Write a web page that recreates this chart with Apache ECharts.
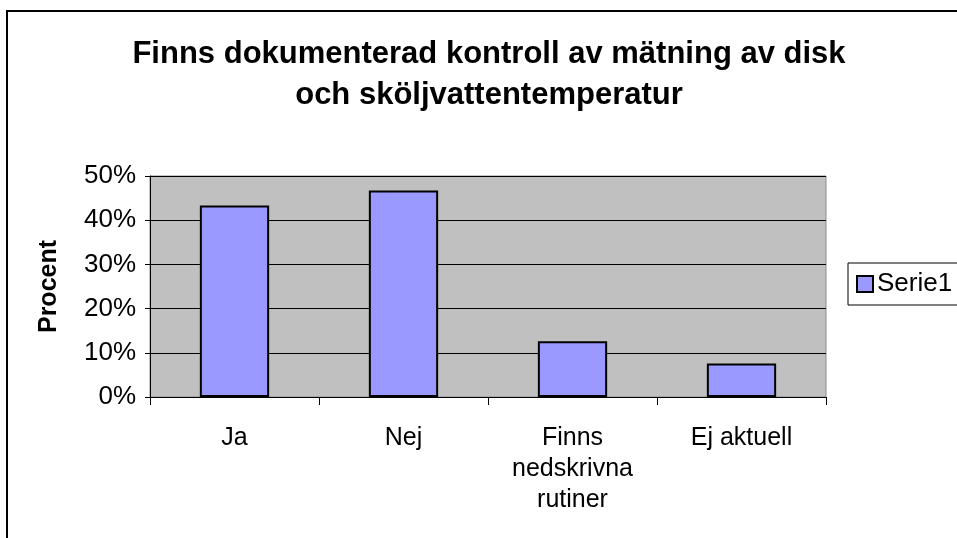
<!DOCTYPE html>
<html>
<head>
<meta charset="utf-8">
<script src="https://cdn.jsdelivr.net/npm/echarts@6/dist/echarts.min.js"></script>
<style>
html,body{margin:0;padding:0;background:#fff;}
#chart{width:957px;height:538px;}
</style>
</head>
<body>
<div id="chart"></div>
<script>
// Data
const categories = ['Ja', 'Nej', 'Finns\nnedskrivna\nrutiner', 'Ej aktuell'];
const serie1 = [43.3, 46.7, 12.6, 7.6];
const yTicks = [0, 10, 20, 30, 40, 50];
const titleText = 'Finns dokumenterad kontroll av mätning av disk\noch sköljvattentemperatur';
const seriesName = 'Serie1';
const yAxisName = 'Procent';

const FONT = '"Liberation Sans", Arial, sans-serif';
const chart = echarts.init(document.getElementById('chart'));
chart.setOption({
  backgroundColor: '#ffffff',
  animation: false,
  title: {
    text: titleText,
    left: 484, top: 29,
    textAlign: 'center',
    textStyle: { fontFamily: FONT, fontWeight: 'bold', fontSize: 31, color: '#000', lineHeight: 41 }
  },
  graphic: [{
    type: 'rect',
    shape: { x: 7, y: 11, width: 1200, height: 1200 },
    style: { fill: 'none', stroke: '#000', lineWidth: 2 },
    silent: true, z: 100
  }],
  legend: {
    data: [seriesName],
    left: 848, top: 263,
    orient: 'vertical',
    padding: [8, 12, 8, 8],
    borderColor: '#000', borderWidth: 1,
    itemWidth: 16, itemHeight: 16, itemGap: 4,
    icon: 'rect',
    textStyle: { fontFamily: FONT, fontSize: 26, color: '#000', padding: [0, 0, 0, -1] }
  },
  grid: {
    left: 150, right: 131, top: 176, bottom: 141,
    show: true, backgroundColor: '#c0c0c0', borderColor: '#8c8c8c', borderWidth: 1
  },
  xAxis: {
    type: 'category',
    data: categories,
    axisLine: { lineStyle: { color: '#000', width: 1 } },
    axisTick: { show: true, length: 8, lineStyle: { color: '#000' } },
    axisLabel: { fontFamily: FONT, fontSize: 25, color: '#000', margin: 26, lineHeight: 31, interval: 0 },
    splitLine: { show: false }
  },
  yAxis: {
    type: 'value',
    min: yTicks[0], max: yTicks[yTicks.length - 1], interval: 10,
    name: yAxisName,
    nameLocation: 'middle',
    nameGap: 88,
    nameTextStyle: { fontFamily: FONT, fontWeight: 'bold', fontSize: 25, color: '#000' },
    axisLine: { show: true, lineStyle: { color: '#000', width: 1 } },
    axisTick: { show: true, length: 5, lineStyle: { color: '#000' } },
    axisLabel: { fontFamily: FONT, fontSize: 26, color: '#000', margin: 14, formatter: '{value}%' },
    splitLine: { show: true, lineStyle: { color: '#000', width: 1 } }
  },
  series: [{
    name: seriesName,
    type: 'bar',
    data: serie1,
    barWidth: '41%',
    itemStyle: { color: '#9999ff', borderColor: '#000', borderWidth: 2 }
  }]
});
</script>
</body>
</html>
